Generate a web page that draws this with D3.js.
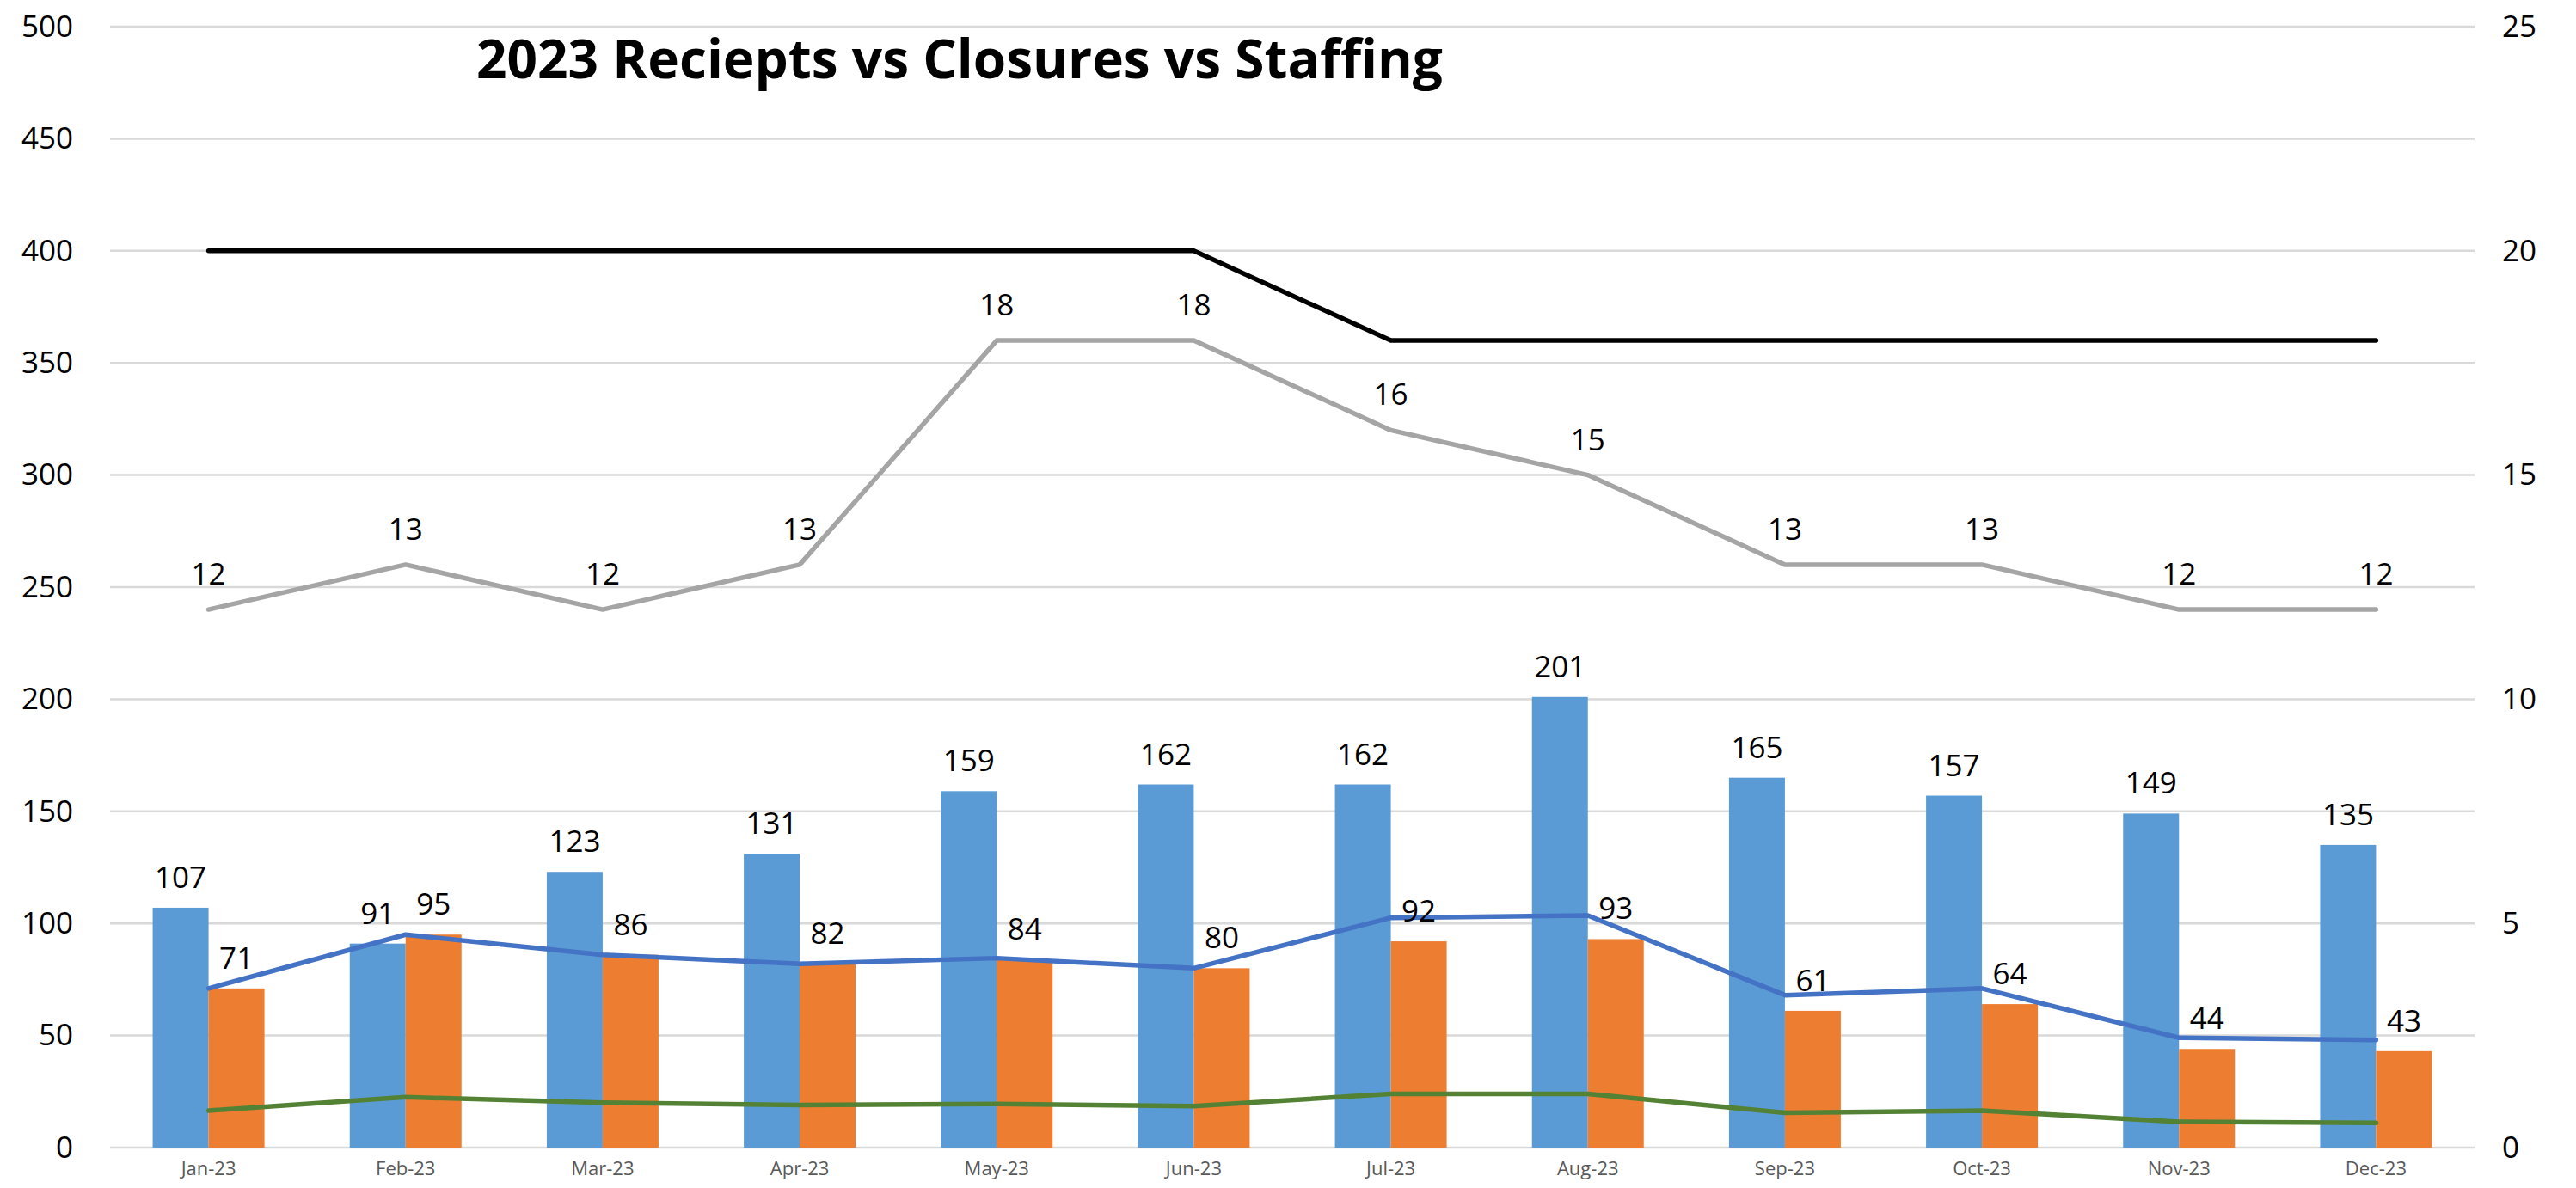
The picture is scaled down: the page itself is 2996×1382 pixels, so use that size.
<!DOCTYPE html>
<html>
<head>
<meta charset="utf-8">
<script src="https://d3js.org/d3.v7.min.js"></script>
<style>
  html, body { margin: 0; padding: 0; background: #fff; }
  text { font-family: "Open Sans", "Noto Sans", sans-serif; }
</style>
</head>
<body>
<script>
// chart values
const months = ["Jan-23","Feb-23","Mar-23","Apr-23","May-23","Jun-23","Jul-23","Aug-23","Sep-23","Oct-23","Nov-23","Dec-23"]
const receipts = [107, 91, 123, 131, 159, 162, 162, 201, 165, 157, 149, 135]
const closures = [71, 95, 86, 82, 84, 80, 92, 93, 61, 64, 44, 43]
const trendBlue = [71, 95, 86, 82, 84.5, 80, 102.5, 103.5, 68, 71, 49, 48]
const trendGreen = [16.5, 22.5, 20, 19, 19.5, 18.5, 24, 24, 15.5, 16.5, 11.5, 11]
const staffing = [12, 13, 12, 13, 18, 18, 16, 15, 13, 13, 12, 12]
const authorized = [20, 20, 20, 20, 20, 20, 18, 18, 18, 18, 18, 18]
const leftTicks = [0, 50, 100, 150, 200, 250, 300, 350, 400, 450, 500]
const rightTicks = [0, 5, 10, 15, 20, 25]
const title = "2023 Reciepts vs Closures vs Staffing"

const W = 2996, H = 1382
const plotLeft = 128, plotRight = 2878, plotTop = 31, plotBottom = 1335

const svg = d3.select("body").append("svg")
  .attr("width", W)
  .attr("height", H)

const pad = 1 - 130 / ((plotRight - plotLeft) / 12)
const x = d3.scaleBand().domain(months).range([plotLeft, plotRight])
  .paddingInner(pad).paddingOuter(pad / 2)
const xs = d3.scaleBand().domain(["r", "c"]).range([0, x.bandwidth()])
const cx = m => x(m) + x.bandwidth() / 2

const yL = d3.scaleLinear().domain([0, 500]).range([plotBottom, plotTop])
const yR = d3.scaleLinear().domain([0, 25]).range([plotBottom, plotTop])

// gridlines
svg.append("g").selectAll("line")
  .data(leftTicks)
  .enter().append("line")
  .attr("x1", plotLeft).attr("x2", plotRight)
  .attr("y1", d => yL(d)).attr("y2", d => yL(d))
  .attr("stroke", "#d9d9d9")
  .attr("stroke-width", 2.5)

// left axis
const axL = svg.append("g")
  .attr("transform", `translate(${plotLeft - 43},0)`)
  .call(d3.axisLeft(yL).tickValues(leftTicks).tickSize(0).tickPadding(0))
axL.select(".domain").remove()
axL.selectAll("text")
  .attr("font-size", 35).attr("fill", "#000")
  .style("font-family", '"Open Sans", sans-serif')

// right axis
const axR = svg.append("g")
  .attr("transform", `translate(${plotRight + 32},0)`)
  .call(d3.axisRight(yR).tickValues(rightTicks).tickSize(0).tickPadding(0))
axR.select(".domain").remove()
axR.selectAll("text")
  .attr("font-size", 35).attr("fill", "#000")
  .style("font-family", '"Open Sans", sans-serif')

// x axis
const axX = svg.append("g")
  .attr("transform", `translate(0,${plotBottom})`)
  .call(d3.axisBottom(x).tickSize(0).tickPadding(16))
axX.select(".domain").remove()
axX.selectAll("text")
  .attr("font-size", 22).attr("fill", "#595959")
  .style("font-family", '"Open Sans", sans-serif')

// bars
const g = svg.append("g")
g.selectAll("rect.rec")
  .data(months)
  .enter().append("rect")
  .attr("class", "rec")
  .attr("x", (d) => x(d) + xs("r"))
  .attr("width", xs.bandwidth())
  .attr("y", (d, i) => yL(receipts[i]))
  .attr("height", (d, i) => yL(0) - yL(receipts[i]))
  .style("fill", "#5b9bd5")

g.selectAll("rect.clo")
  .data(months)
  .enter().append("rect")
  .attr("class", "clo")
  .attr("x", (d) => x(d) + xs("c"))
  .attr("width", xs.bandwidth())
  .attr("y", (d, i) => yL(closures[i]))
  .attr("height", (d, i) => yL(0) - yL(closures[i]))
  .style("fill", "#ed7d31")

// lines
function drawLine(vals, scale, color) {
  const line = d3.line()
    .x((d, i) => cx(months[i]))
    .y(d => scale(d))
  svg.append("path")
    .datum(vals)
    .attr("d", line)
    .attr("fill", "none")
    .attr("stroke", color)
    .attr("stroke-width", 5.5)
    .attr("stroke-linecap", "round")
    .attr("stroke-linejoin", "round")
}
drawLine(authorized, yR, "#000000")
drawLine(staffing, yR, "#a5a5a5")
drawLine(trendGreen, yL, "#548235")
drawLine(trendBlue, yL, "#4472c4")

// data labels
function labels(vals, xf, yf) {
  svg.append("g").selectAll("text")
    .data(vals)
    .enter().append("text")
    .attr("x", (d, i) => xf(months[i]))
    .attr("y", (d, i) => yf(d))
    .attr("text-anchor", "middle")
    .attr("font-size", 35)
    .attr("fill", "#000")
    .text(d => d)
}
labels(receipts, m => x(m) + xs("r") + xs.bandwidth() / 2, d => yL(d) - 23)
labels(closures, m => x(m) + xs("c") + xs.bandwidth() / 2, d => yL(d) - 23)
labels(staffing, cx, d => yR(d) - 29)

// title
const t = svg.append("text")
  .attr("x", 554)
  .attr("y", 91)
  .attr("font-size", 64)
  .attr("font-weight", "bold")
  .attr("fill", "#000")
  .text(title)
const len = t.node().getComputedTextLength()
t.attr("font-size", 64 * 1124 / len)
</script>
</body>
</html>
